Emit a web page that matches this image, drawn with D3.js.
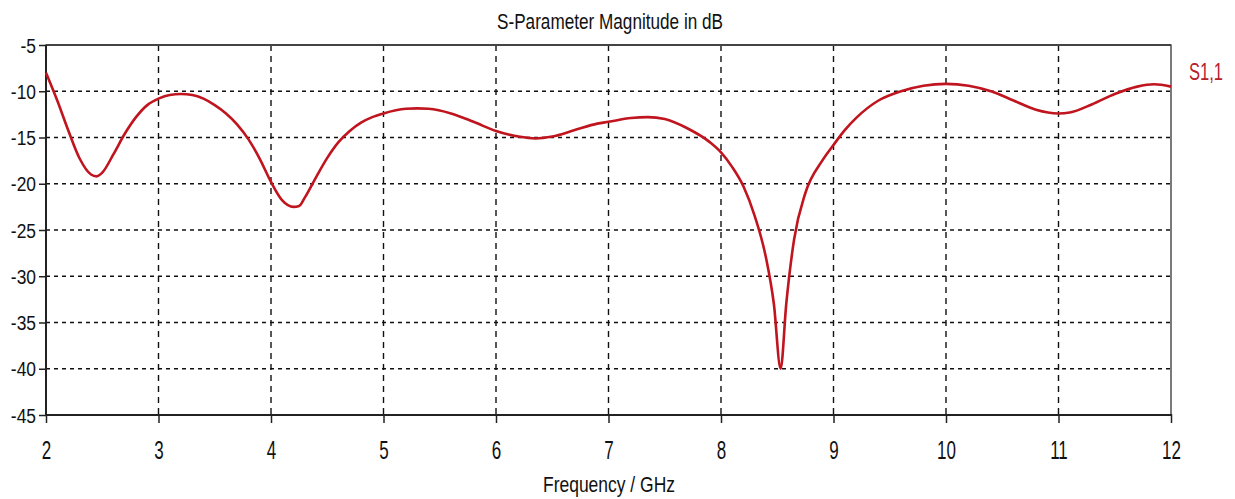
<!DOCTYPE html>
<html><head><meta charset="utf-8">
<script src="https://cdn.jsdelivr.net/npm/d3@7"></script>
<style>
html,body{margin:0;padding:0;background:#fff;}
text{font-family:"Liberation Sans",Arial,sans-serif;fill:#111;}
</style></head>
<body><svg id="c" width="1235" height="499"></svg>
<script>
const freq = [2.0,2.1,2.2,2.3,2.4,2.45,2.5,2.6,2.7,2.8,2.9,3.0,3.1,3.2,3.3,3.4,3.5,3.6,3.7,3.8,3.9,4.0,4.1,4.2,4.25,4.3,4.4,4.5,4.6,4.7,4.8,4.9,5.0,5.2,5.3,5.4,5.6,5.8,6.0,6.2,6.35,6.5,6.7,6.9,7.0,7.2,7.35,7.5,7.7,7.9,8.0,8.1,8.2,8.3,8.4,8.47,8.53,8.58,8.65,8.75,8.9,9.0,9.1,9.2,9.4,9.6,9.8,10.0,10.2,10.4,10.6,10.8,11.0,11.1,11.3,11.5,11.7,11.85,12.0];
const s11 = [-8.0,-11.0,-14.3,-17.3,-19.0,-19.2,-18.8,-16.8,-14.6,-12.8,-11.5,-10.8,-10.4,-10.3,-10.4,-10.8,-11.5,-12.4,-13.6,-15.2,-17.3,-19.8,-21.8,-22.5,-22.4,-21.5,-19.3,-17.2,-15.5,-14.3,-13.4,-12.8,-12.4,-11.9,-11.85,-11.9,-12.4,-13.3,-14.3,-14.9,-15.1,-14.9,-14.2,-13.5,-13.3,-12.9,-12.8,-13.0,-14.0,-15.5,-16.6,-18.2,-20.3,-23.5,-28.0,-33.0,-40.0,-33.0,-26.0,-21.0,-17.5,-15.8,-14.2,-12.9,-11.0,-10.0,-9.4,-9.2,-9.4,-10.0,-11.0,-12.0,-12.4,-12.3,-11.4,-10.3,-9.5,-9.25,-9.5];
const xTicks = [2,3,4,5,6,7,8,9,10,11,12];
const yTicks = [-5,-10,-15,-20,-25,-30,-35,-40,-45];
const title = "S-Parameter Magnitude in dB";
const xLabel = "Frequency / GHz";
const seriesName = "S1,1";

const svg = d3.select("#c");
const L = 46, R = 1171, T = 45, B = 415;
const x = d3.scaleLinear().domain([2,12]).range([L,R]);
const y = d3.scaleLinear().domain([-5,-45]).range([T,B]);

// grid
const g = svg.append("g");
g.selectAll(".vg").data(xTicks.slice(1,-1)).join("line")
  .attr("x1",d=>x(d)).attr("x2",d=>x(d)).attr("y1",T).attr("y2",B)
  .attr("stroke","#111").attr("stroke-width",1.4).attr("stroke-dasharray","6,5");
g.selectAll(".hg").data(yTicks.slice(1,-1)).join("line")
  .attr("x1",L).attr("x2",R).attr("y1",d=>y(d)).attr("y2",d=>y(d))
  .attr("stroke","#111").attr("stroke-width",1.4).attr("stroke-dasharray","4,4");

// frame
svg.append("rect").attr("x",L).attr("y",T).attr("width",R-L).attr("height",B-T)
  .attr("fill","none").attr("stroke","#333").attr("stroke-width",1.3);
svg.append("line").attr("x1",L).attr("x2",R).attr("y1",T).attr("y2",T).attr("stroke","#444").attr("stroke-width",2.2);
svg.append("line").attr("x1",L).attr("x2",R).attr("y1",B).attr("y2",B).attr("stroke","#222").attr("stroke-width",2);
svg.append("line").attr("x1",L).attr("x2",L).attr("y1",T).attr("y2",B).attr("stroke","#222").attr("stroke-width",2);

// axes
const fmt = d => String(d);
const xa = svg.append("g").attr("transform",`translate(0,${B})`)
  .call(d3.axisBottom(x).tickValues(xTicks).tickSize(8).tickSizeOuter(0).tickFormat(fmt));
xa.select(".domain").remove();
xa.selectAll("line").attr("stroke","#222").attr("stroke-width",1.5).attr("y1",-1);
xa.selectAll("text").attr("font-size",20).attr("dy",0).attr("x",0).attr("y",44/1.3)
  .attr("transform","scale(0.85,1.3)").attr("fill","#111");

const ya = svg.append("g").attr("transform",`translate(${L},0)`)
  .call(d3.axisLeft(y).tickValues(yTicks).tickSize(7).tickSizeOuter(0).tickFormat(fmt));
ya.select(".domain").remove();
ya.selectAll("line").attr("stroke","#222").attr("stroke-width",1.5);
ya.selectAll("text").attr("font-size",20).attr("x",-10/0.87).attr("dy","0.36em")
  .attr("transform","scale(0.87,1)").attr("fill","#111");

// curve
const data = freq.map((f,i)=>[f,s11[i]]);
const line = d3.line().x(d=>x(d[0])).y(d=>y(d[1])).curve(d3.curveMonotoneX);
svg.append("path").datum(data).attr("d",line).attr("fill","none")
  .attr("stroke","#c0141e").attr("stroke-width",2.6).attr("stroke-linejoin","round");

// texts
svg.append("text").attr("x",497).attr("y",29).attr("font-size",22)
  .attr("textLength",226).attr("lengthAdjust","spacingAndGlyphs").text(title);
svg.append("text").attr("x",543).attr("y",492).attr("font-size",22)
  .attr("textLength",132).attr("lengthAdjust","spacingAndGlyphs").text(xLabel);
svg.append("text").attr("x",1189).attr("y",80).attr("font-size",23)
  .attr("textLength",34).attr("lengthAdjust","spacingAndGlyphs").style("fill","#b8202a").text(seriesName);
</script></body></html>
